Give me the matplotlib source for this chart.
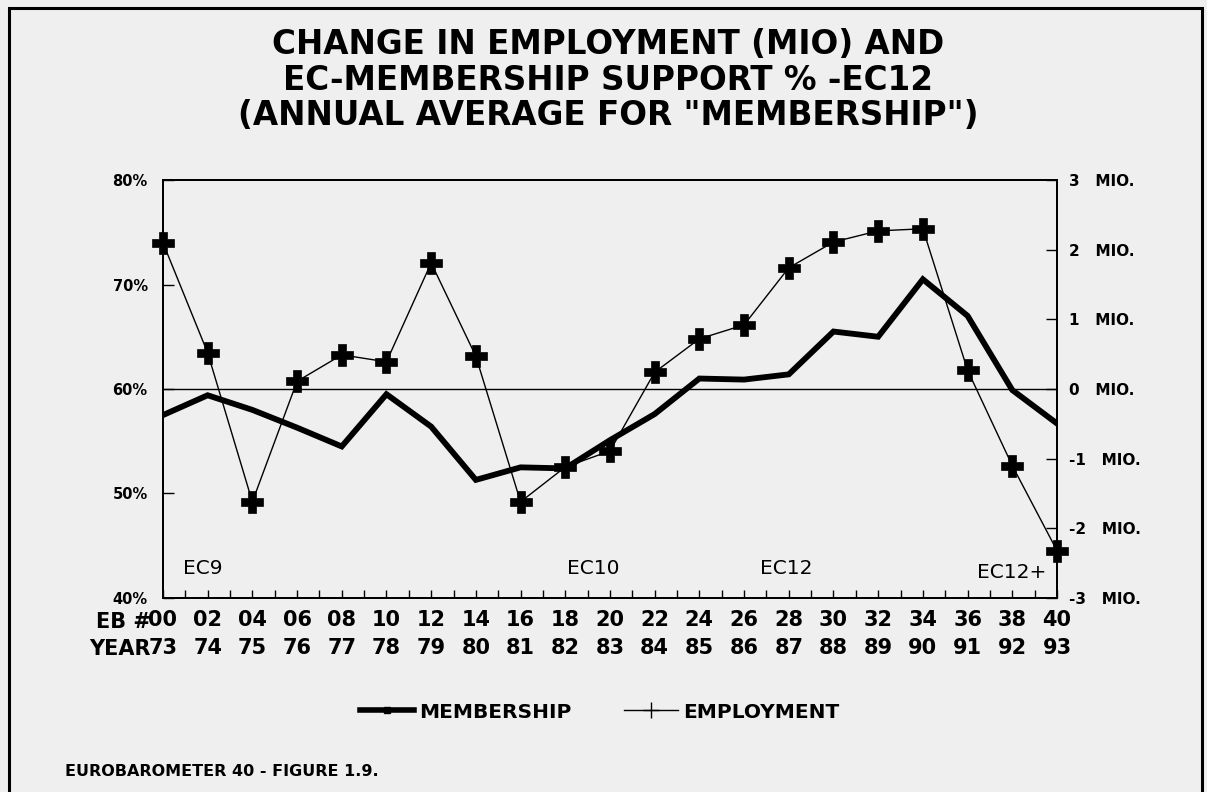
import numpy as np
import matplotlib.pyplot as plt
from matplotlib.lines import Line2D
from matplotlib.patches import Rectangle

# Eurobarometer wave numbers and survey years
eb_waves = [0, 2, 4, 6, 8, 10, 12, 14, 16, 18, 20, 22, 24, 26, 28, 30, 32, 34, 36, 38, 40]
years = ["73", "74", "75", "76", "77", "78", "79", "80", "81", "82", "83",
         "84", "85", "86", "87", "88", "89", "90", "91", "92", "93"]

# EC membership support, annual average (%)
membership = [57.5, 59.4, 58.0, 56.3, 54.5, 59.5, 56.4, 51.3, 52.5, 52.4, 55.1,
              57.6, 61.0, 60.9, 61.4, 65.5, 65.0, 70.5, 67.0, 59.9, 56.7]

# change in employment (millions)
employment = [2.10, 0.52, -1.62, 0.11, 0.49, 0.39, 1.81, 0.47, -1.62, -1.12, -0.89,
              0.24, 0.72, 0.92, 1.74, 2.11, 2.27, 2.30, 0.27, -1.10, -2.32]

pct_ticks = [40, 50, 60, 70, 80]
mio_ticks = [-3, -2, -1, 0, 1, 2, 3]

eras = [("EC9", 0.9, 42.8), ("EC10", 18.1, 42.8), ("EC12", 26.7, 42.8), ("EC12+", 36.4, 42.4)]

BG = "#efefef"
BOLD = dict(family="DejaVu Sans", weight="bold")

fig = plt.figure(figsize=(12.07, 7.92), dpi=100, facecolor=BG)

# outer frame
fig.patches.append(Rectangle((0.0075, -0.01), 0.988, 1.0, transform=fig.transFigure,
                             fill=False, lw=2.2, ec="black"))

ax = fig.add_axes([0.135, 0.245, 0.7407, 0.5277], facecolor=BG)
ax2 = ax.twinx()

ax.set_xlim(0, 40)
ax.set_ylim(40, 80)
ax2.set_ylim(-3, 3)

ax.axhline(60, color="black", lw=1.0, zorder=1)

ax.plot(eb_waves, membership, color="black", lw=4.2, solid_joinstyle="miter", zorder=3)
ax2.plot(eb_waves, employment, color="black", lw=1.0, marker="P", ms=16,
         mec="black", mfc="black", mew=0.5, zorder=4, clip_on=False)

for s in list(ax.spines.values()) + list(ax2.spines.values()):
    s.set_linewidth(1.4)

# x axis
ax.set_xticks(eb_waves)
ax.set_xticks(range(1, 40, 2), minor=True)
ax.set_xticklabels([f"{w:02d}\n{y}" for w, y in zip(eb_waves, years)],
                   fontsize=15, linespacing=1.45, **BOLD)
ax.tick_params(axis="x", which="both", direction="in", length=6, width=1, pad=9)

# left axis
ax.set_yticks(pct_ticks)
ax.set_yticklabels([f"{p}%" for p in pct_ticks], fontsize=10.5, **BOLD)
ax.tick_params(axis="y", direction="in", length=8, width=1, pad=11)

# right axis
ax2.set_yticks(mio_ticks)
ax2.set_yticklabels([f"{m}   MIO." for m in mio_ticks], fontsize=11, **BOLD)
ax2.tick_params(axis="y", direction="in", length=8, width=1, pad=9)

fig.text(0.1245, 1 - 622 / 792, "EB #", ha="right", va="center", fontsize=15, **BOLD)
fig.text(0.1245, 1 - 649 / 792, "YEAR", ha="right", va="center", fontsize=15, **BOLD)

for label, x, y in eras:
    ax.text(x, y, label, fontsize=14.5, family="DejaVu Sans", ha="left", va="center")

title = ("CHANGE IN EMPLOYMENT (MIO) AND\n"
         "EC-MEMBERSHIP SUPPORT % -EC12\n"
         "(ANNUAL AVERAGE FOR \"MEMBERSHIP\")")
fig.text(0.504, 1 - 80 / 792, title, ha="center", va="center",
         fontsize=23.5, linespacing=1.08, family="DejaVu Sans", weight="bold")

handles = [
    Line2D([], [], color="black", lw=4, marker="s", ms=5),
    Line2D([], [], color="black", lw=1, marker="+", ms=12, mew=1),
]
fig.legend(handles, ["MEMBERSHIP", "EMPLOYMENT"], loc="center",
           bbox_to_anchor=(0.497, 1 - 712 / 792), ncol=2, frameon=False,
           handlelength=2.7, handletextpad=0.25, columnspacing=2.6,
           prop=dict(family="DejaVu Sans", weight="bold", size=14.5))

fig.text(0.054, 1 - 771 / 792, "EUROBAROMETER 40 - FIGURE 1.9.", ha="left", va="center",
         fontsize=11.5, **BOLD)

fig.savefig("out.png", dpi=100, facecolor=BG)
